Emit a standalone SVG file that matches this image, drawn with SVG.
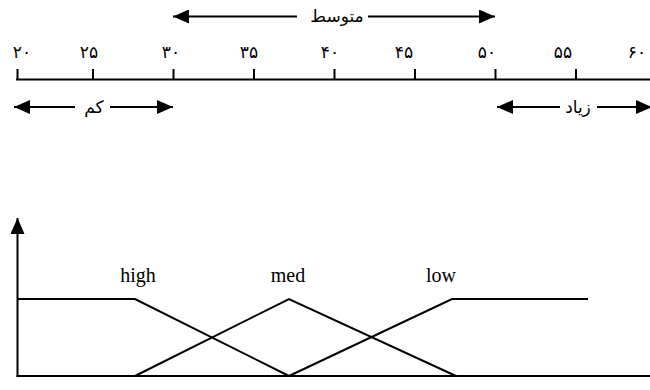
<svg xmlns="http://www.w3.org/2000/svg" width="650" height="390" viewBox="0 0 650 390">
<defs>
<marker id="ah" viewBox="0 0 16 14" refX="16" refY="7" markerWidth="16" markerHeight="14" markerUnits="userSpaceOnUse" orient="auto-start-reverse">
<path d="M0,0 L16,7 L0,14 Z" fill="#000"/>
</marker>
<style>
.ln{stroke:#000;stroke-width:2;fill:none}
.fa{font-family:"DejaVu Sans","Noto Sans",sans-serif;font-size:17px;font-weight:normal;fill:#000;text-anchor:middle}
.en{font-family:"Liberation Serif","Times New Roman",serif;font-size:20px;fill:#000;text-anchor:middle}
</style>
</defs>
<rect width="650" height="390" fill="#fff"/>
<g id="scale">
<line class="ln" x1="16" y1="79.5" x2="650" y2="79.5"/>
<g class="ln">
<line x1="17.5" y1="69" x2="17.5" y2="80"/>
<line x1="93" y1="69" x2="93" y2="80"/>
<line x1="173.5" y1="69" x2="173.5" y2="80"/>
<line x1="254" y1="69" x2="254" y2="80"/>
<line x1="334.5" y1="69" x2="334.5" y2="80"/>
<line x1="415" y1="69" x2="415" y2="80"/>
<line x1="495.5" y1="69" x2="495.5" y2="80"/>
<line x1="576" y1="69" x2="576" y2="80"/>
</g>
<text class="fa" x="22" y="58">۲۰</text>
<text class="fa" x="89" y="58">۲۵</text>
<text class="fa" x="171" y="58">۳۰</text>
<text class="fa" x="249" y="58">۳۵</text>
<text class="fa" x="330" y="58">۴۰</text>
<text class="fa" x="404" y="58">۴۵</text>
<text class="fa" x="487" y="58">۵۰</text>
<text class="fa" x="563" y="58">۵۵</text>
<text class="fa" x="637" y="58">۶۰</text>
</g>
<g id="range-med">
<line class="ln" x1="297" y1="16.5" x2="173" y2="16.5" marker-end="url(#ah)"/>
<line class="ln" x1="368" y1="16.5" x2="495" y2="16.5" marker-end="url(#ah)"/>
<text class="fa" x="337" y="22">متوسط</text>
</g>
<g id="range-low">
<line class="ln" x1="75" y1="107" x2="14" y2="107" marker-end="url(#ah)"/>
<line class="ln" x1="110" y1="107" x2="173" y2="107" marker-end="url(#ah)"/>
<text class="fa" x="94" y="113">کم</text>
</g>
<g id="range-high">
<line class="ln" x1="560" y1="107" x2="497" y2="107" marker-end="url(#ah)"/>
<line class="ln" x1="597" y1="107" x2="652" y2="107" marker-end="url(#ah)"/>
<text class="fa" x="578" y="113">زیاد</text>
</g>
<g id="axes">
<line class="ln" x1="17.5" y1="377" x2="17.5" y2="218" marker-end="url(#ah)"/>
<line class="ln" x1="16.5" y1="376" x2="650" y2="376"/>
</g>
<g id="mf-high">
<polyline class="ln" points="17.5,299 135,299 289,376"/>
<text class="en" x="138" y="282">high</text>
</g>
<g id="mf-med">
<polyline class="ln" points="135,376 289,299 456,376"/>
<text class="en" x="288" y="282">med</text>
</g>
<g id="mf-low">
<polyline class="ln" points="289,376 452,299 588,299"/>
<text class="en" x="441" y="282">low</text>
</g>
</svg>
